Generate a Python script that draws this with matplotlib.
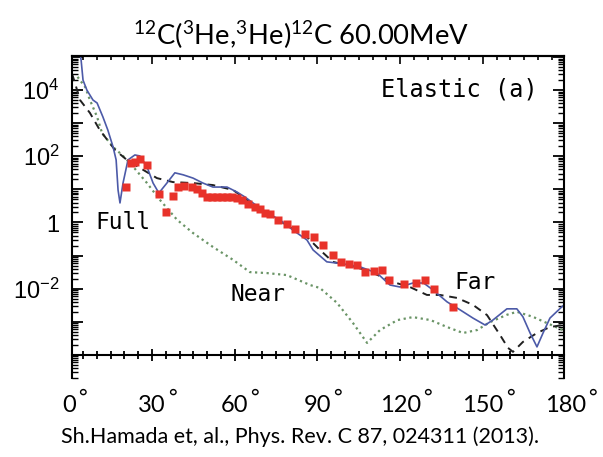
import numpy as np
import matplotlib
matplotlib.use("Agg")
import matplotlib.pyplot as plt
import matplotlib.transforms as mtransforms
from matplotlib.ticker import MultipleLocator, LogLocator, FixedLocator, NullFormatter, FuncFormatter

plt.rcParams["mathtext.fontset"] = "custom"
plt.rcParams["mathtext.rm"] = "Lato"
plt.rcParams["mathtext.sf"] = "Liberation Sans"

# experimental data (deg, log10 dsigma)
exp_deg = [20.6, 22.4, 23.8, 25.6, 28.1, 32.5, 35.1, 37.6, 39.4, 41.6, 44.5, 46.3,
           48.1, 49.9, 51.8, 53.6, 55.4, 57.2, 59.0, 60.8, 62.6, 64.8, 67.3, 69.2,
           71.0, 72.8, 75.7, 78.9, 81.9, 85.5, 88.7, 92.0, 95.6, 98.5, 101.4, 104.3,
           107.2, 110.5, 113.4, 115.9, 121.4, 125.7, 129.0, 132.2, 139.1]
exp_log = [1.08, 1.80, 1.83, 1.92, 1.74, 0.86, 0.32, 0.80, 1.07, 1.10, 1.07, 1.01,
           0.89, 0.77, 0.77, 0.77, 0.77, 0.77, 0.77, 0.74, 0.68, 0.56, 0.47, 0.41,
           0.29, 0.26, 0.08, -0.05, -0.20, -0.35, -0.44, -0.68, -0.98, -1.19, -1.25, -1.28,
           -1.50, -1.47, -1.44, -1.74, -1.86, -1.83, -1.74, -2.01, -2.55]

# Full (solid blue)
full_deg = [3.9, 4.3, 5.0, 6.4, 8.6, 10.1, 12.2, 14.0, 15.9, 17.0, 17.7, 18.4, 19.5,
            21.3, 23.8, 25.6, 28.2, 30.4, 32.5, 35.4, 38.3, 41.3, 44.9, 48.5, 52.1,
            57.2, 60.8, 63.7, 66.6, 71.7, 76.4, 81.1, 86.2, 88.4, 93.4, 99.3, 105.4,
            111.6, 116.3, 119.9, 124.6, 128.5, 131.9, 137.0, 141.7, 146.4, 150.8,
            153.6, 158.7, 162.3, 164.5, 167.1, 169.6, 171.8, 174.3, 178.6, 180.0]
full_log = [5.10, 4.91, 4.30, 4.00, 3.70, 3.61, 3.19, 2.79, 2.28, 1.89, 0.98, 0.59, 1.19,
            1.89, 2.04, 2.01, 1.68, 1.19, 0.89, 1.19, 1.50, 1.44, 1.34, 1.19, 1.07,
            1.07, 0.92, 0.77, 0.59, 0.29, 0.08, -0.23, -0.53, -0.83, -1.19, -1.25, -1.34,
            -1.53, -1.89, -1.95, -1.83, -1.83, -2.04, -2.40, -2.64, -2.89, -3.10,
            -2.95, -2.61, -2.61, -2.85, -3.34, -3.76, -3.34, -2.89, -2.55, -2.45]

# Far (black dashed)
far_deg = [1.0, 2.1, 3.9, 7.5, 11.1, 16.6, 20.9, 25.6, 31.8, 37.6, 44.9, 52.1, 59.4,
           64.5, 71.7, 80.0, 86.2, 90.9, 95.6, 107.9, 117.4, 123.5, 129.7, 134.4,
           140.6, 146.4, 151.5, 156.2, 159.1, 160.9, 164.5, 169.6, 174.3, 179.0]
far_log = [4.50, 4.21, 3.70, 3.31, 2.79, 2.19, 1.89, 1.65, 1.34, 1.22, 1.19, 1.13, 0.98,
           0.68, 0.29, -0.14, -0.44, -0.83, -1.19, -1.44, -1.80, -1.95, -2.19, -2.19,
           -2.28, -2.49, -2.80, -3.40, -3.79, -3.91, -3.61, -3.34, -3.16, -3.10]

# Near (green dotted)
near_deg = [3.0, 5.8, 7.5, 10.1, 11.9, 15.9, 19.0, 22.0, 28.2, 32.9, 39.1, 44.9, 52.1,
            59.4, 65.5, 71.7, 78.9, 87.3, 90.9, 97.1, 102.9, 108.0, 112.7, 119.0,
            124.6, 131.0, 137.0, 142.8, 147.9, 152.6, 158.7, 162.3, 168.1, 173.2, 179.0]
near_log = [4.40, 4.09, 3.70, 3.19, 2.70, 2.28, 2.05, 1.80, 1.19, 0.68, 0.08, -0.32, -0.74,
            -1.13, -1.50, -1.53, -1.59, -1.89, -1.98, -2.43, -3.04, -3.64, -3.25, -2.95,
            -2.86, -2.95, -3.16, -3.34, -3.25, -3.01, -2.79, -2.70, -2.85, -3.04, -3.25]

x_ticks = [0, 30, 60, 90, 120, 150, 180]
y_label_exp = [4, 2, 0, -2]

fig = plt.figure(figsize=(6.03, 4.57), dpi=100)
ax = fig.add_axes([72/603, 1-378/457, (564-72)/603, (378-56)/457])

pw = lambda a: 10.0 ** np.array(a)
ax.plot(near_deg, pw(near_log), color="#6a9466", lw=1.6, ls=(0, (1, 1.6)))
ax.plot(far_deg, pw(far_log), color="#202020", lw=1.4, ls=(0, (4, 3)))
ax.plot(full_deg, pw(full_log), color="#4c5aa8", lw=1.2)
ax.plot(exp_deg, pw(exp_log), ls="none", marker="s", ms=5.5, color="#e8322a", mec="none")

ax.set_yscale("log")
ax.set_xlim(1.0, 179.4)
ax.set_ylim(10 ** -4.70, 10 ** 5.03)

# x axis drawn at 1e-4, no box bottom
ax.spines["bottom"].set_position(("data", 1e-4))
for s in ["left", "right", "top", "bottom"]:
    ax.spines[s].set_linewidth(1.5)

ax.xaxis.set_major_locator(FixedLocator(x_ticks))
ax.xaxis.set_minor_locator(MultipleLocator(5))
ax.xaxis.set_major_formatter(NullFormatter())
ax.tick_params(axis="x", which="major", direction="inout", length=9, width=1.3, top=False)
ax.tick_params(axis="x", which="minor", direction="inout", length=6, width=1.3, top=False)

# tick labels below the box: digits centred on the tick, degree sign hanging right
trans = mtransforms.blended_transform_factory(ax.transData, ax.transAxes)
for t in x_ticks:
    num = ax.text(t, -0.085, f"{t}", transform=trans, family="Lato", fontsize=17,
                  ha="center", va="center", clip_on=False)
    ax.annotate("°", xy=(1.0, 1.0), xycoords=num, xytext=(1.5, 5), textcoords="offset points",
                family="Lato", fontsize=15, ha="left", va="top", annotation_clip=False)

top = ax.secondary_xaxis("top")
top.xaxis.set_major_locator(FixedLocator(x_ticks))
top.xaxis.set_minor_locator(MultipleLocator(5))
top.xaxis.set_major_formatter(NullFormatter())
top.tick_params(which="major", direction="in", length=6, width=1.2)
top.tick_params(which="minor", direction="in", length=3, width=1.2)
top.spines["top"].set_linewidth(1.5)

ax.yaxis.set_major_locator(LogLocator(base=10, numticks=20))
ax.yaxis.set_minor_locator(LogLocator(base=10, subs=np.arange(2, 10), numticks=20))
ax.yaxis.set_minor_formatter(NullFormatter())


def ylab(v, pos):
    e = int(round(np.log10(v)))
    if e not in y_label_exp:
        return ""
    if e == 0:
        return r"$\mathsf{1}$"
    return r"$\mathsf{10^{%d}}$" % e


ax.yaxis.set_major_formatter(FuncFormatter(ylab))
ax.tick_params(axis="y", which="major", direction="in", length=8, width=1.3,
               right=True, labelsize=17, pad=9)
ax.tick_params(axis="y", which="minor", direction="in", length=4, width=1.0, right=True)

mono = "DejaVu Sans Mono"
ax.text(9.5, 1.0, "Full", family=mono, fontsize=16.5, va="center", ha="left")
ax.text(58.5, 10 ** -2.19, "Near", family=mono, fontsize=16.5, va="center", ha="left")
ax.text(139.5, 10 ** -1.8, "Far", family=mono, fontsize=16.5, va="center", ha="left")
ax.text(170.0, 10 ** 4.02, "Elastic (a)", family=mono, fontsize=17, va="center", ha="right")

fig.text(0.5, 1 - 35/457, r"$^{12}$C($^{3}$He,$^{3}$He)$^{12}$C 60.00MeV",
         family="Lato", fontsize=19.7, ha="center", va="center")
fig.text(0.497, 1 - 437/457, "Sh.Hamada et, al., Phys. Rev. C 87, 024311 (2013).",
         family="Lato", fontsize=15.5, ha="center", va="center")

fig.savefig("out.png", dpi=100)
